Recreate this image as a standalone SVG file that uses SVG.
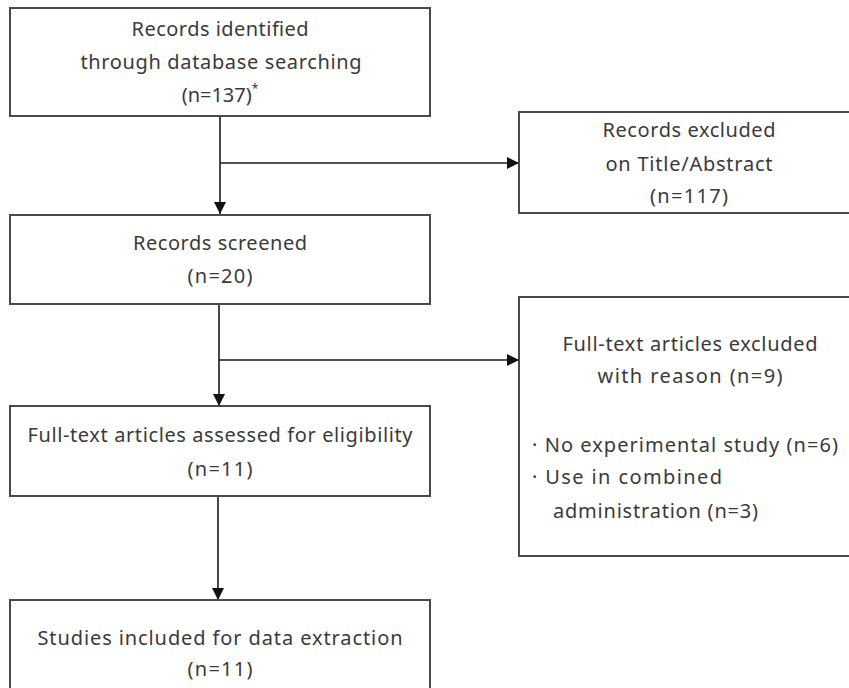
<svg xmlns="http://www.w3.org/2000/svg" width="849" height="688" viewBox="0 0 849 688">
<style>
.box{fill:#fff;stroke:#4a4a4a;stroke-width:2}
.t{font-family:"Noto Sans","Noto Sans CJK KR",sans-serif;font-size:20px;fill:#3a3a3a;text-anchor:middle}
.l{text-anchor:start}
.c{fill:none;stroke:#1a1a1a;stroke-width:1.6}
</style>
<defs>
<marker id="ah" viewBox="0 0 12 12" refX="12" refY="6" markerWidth="12" markerHeight="12" markerUnits="userSpaceOnUse" orient="auto">
<path d="M0,0 L12,6 L0,12 Z" fill="#111"/>
</marker>
</defs>
<rect width="849" height="688" fill="#fff"/>
<g id="connectors">
<path class="c" d="M220,116 V214" marker-end="url(#ah)"/>
<path class="c" d="M220,163 H519" marker-end="url(#ah)"/>
<path class="c" d="M219,304 V406" marker-end="url(#ah)"/>
<path class="c" d="M219,360 H519" marker-end="url(#ah)"/>
<path class="c" d="M218,496 V600" marker-end="url(#ah)"/>
</g>
<g id="identified">
<rect class="box" x="10" y="8" width="420" height="108"/>
<text class="t" x="220" y="36" textLength="177" lengthAdjust="spacing">Records identified</text>
<text class="t" x="221" y="69" textLength="281" lengthAdjust="spacing">through database searching</text>
<text class="t" x="220" y="102">(n=137)<tspan font-size="12" dy="-9">*</tspan></text>
</g>
<g id="excluded-title">
<rect class="box" x="519" y="112" width="340" height="101"/>
<text class="t" x="689" y="137" textLength="173" lengthAdjust="spacing">Records excluded</text>
<text class="t" x="689" y="171" textLength="167" lengthAdjust="spacing">on Title/Abstract</text>
<text class="t" x="689" y="203" textLength="78" lengthAdjust="spacing">(n=117)</text>
</g>
<g id="screened">
<rect class="box" x="10" y="215" width="420" height="89"/>
<text class="t" x="220" y="250" textLength="174" lengthAdjust="spacing">Records screened</text>
<text class="t" x="220" y="283" textLength="65" lengthAdjust="spacing">(n=20)</text>
</g>
<g id="excluded-fulltext">
<rect class="box" x="519" y="297" width="340" height="259"/>
<text class="t" x="690" y="351" textLength="255" lengthAdjust="spacing">Full-text articles excluded</text>
<text class="t" x="690" y="383" textLength="185" lengthAdjust="spacing">with reason (n=9)</text>
<text class="t l" x="532" y="452" textLength="306" lengthAdjust="spacing">· No experimental study (n=6)</text>
<text class="t l" x="532" y="484" textLength="190" lengthAdjust="spacing">· Use in combined</text>
<text class="t l" x="553" y="518" textLength="205" lengthAdjust="spacing">administration (n=3)</text>
</g>
<g id="assessed">
<rect class="box" x="10" y="406" width="420" height="90"/>
<text class="t" x="220" y="442" textLength="385" lengthAdjust="spacing">Full-text articles assessed for eligibility</text>
<text class="t" x="220" y="476" textLength="65" lengthAdjust="spacing">(n=11)</text>
</g>
<g id="included">
<rect class="box" x="10" y="600" width="420" height="100"/>
<text class="t" x="220" y="645" textLength="365" lengthAdjust="spacing">Studies included for data extraction</text>
<text class="t" x="220" y="676" textLength="65" lengthAdjust="spacing">(n=11)</text>
</g>
</svg>
